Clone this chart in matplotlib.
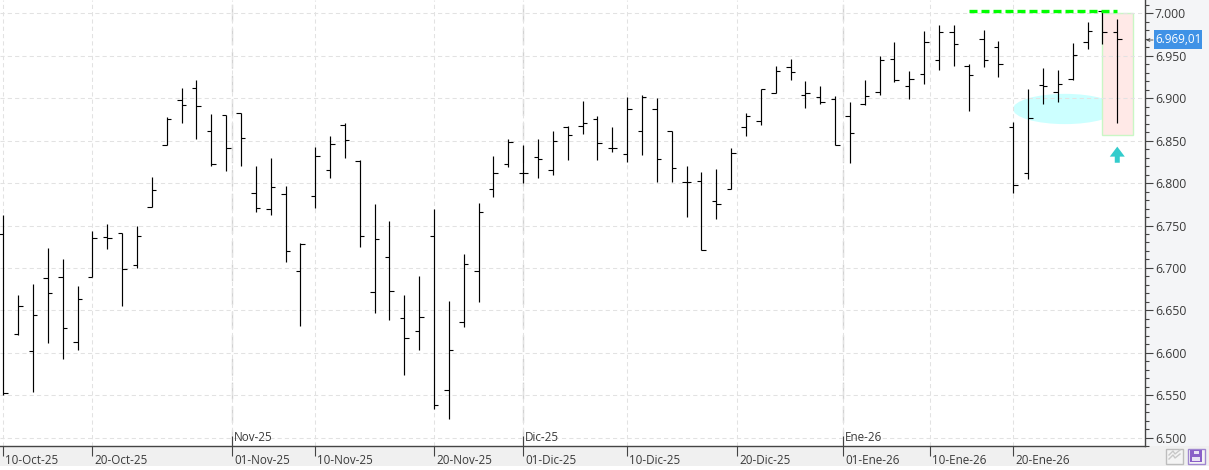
import matplotlib
matplotlib.use("Agg")
import matplotlib.pyplot as plt
from matplotlib.patches import Ellipse, Rectangle
from matplotlib.ticker import FuncFormatter, MultipleLocator
from matplotlib.transforms import ScaledTranslation
import numpy as np

plt.rcParams["font.family"] = ["Open Sans", "DejaVu Sans"]

# OHLC values
opens = [6740, 6622, 6602, 6688, 6689, 6612.5, 6689, 6736, 6741, 6703, 6772,
         6845.4, 6897.6, 6911.8, 6861, 6880, 6882.3, 6788, 6769, 6787,
         6696.7, 6785, 6815.8, 6868, 6826.4, 6672, 6713, 6641, 6626, 6738,
         6556, 6636.5, 6696.7, 6793.4, 6823, 6812.3, 6831, 6815.8, 6866.5, 6867,
         6875, 6841, 6834, 6862, 6887, 6861.5, 6801, 6803, 6778.5, 6792.7,
         6866, 6873, 6906, 6936.6, 6903.5, 6901, 6899, 6879, 6893, 6908,
         6946, 6914, 6928.3, 6944.8, 6977.8, 6937.7, 6969.6, 6961, 6865.8, 6811.5,
         6915.3, 6908, 6923, 6966, 7002.6, 6977.8]
highs = [6762.7, 6668.3, 6681, 6724, 6710, 6679, 6744, 6752, 6741.4, 6750, 6807.5,
         6877.6, 6911.8, 6921, 6881.5, 6880, 6882.3, 6820.4, 6830, 6797,
         6729.7, 6842, 6855, 6870.4, 6827.6, 6775, 6755, 6667.6, 6690, 6770,
         6660.5, 6716, 6777, 6831.5, 6851.6, 6844.5, 6851.6, 6862, 6867, 6897,
         6879, 6866, 6901.6, 6904, 6900.4, 6862, 6820, 6813, 6816.7, 6841.4,
         6882.7, 6911.4, 6938, 6946, 6920.4, 6914.5, 6902.4, 6895.7, 6921.6, 6950,
         6966.4, 6932, 6979.4, 6986.5, 6986.5, 6941, 6980.6, 6967.6, 6871.7, 6911,
         6935.8, 6933.4, 6965, 6990, 7003.4, 6993]
lows = [6550, 6621, 6554, 6611, 6593, 6603, 6689, 6722, 6654.5, 6700, 6772,
        6844.6, 6871.3, 6852, 6820.6, 6814.7, 6820.6, 6765.4, 6762, 6706.4,
        6631.4, 6770.6, 6806, 6829.6, 6724.6, 6646.8, 6638.5, 6573.6, 6603, 6533.6,
        6521.8, 6630.3, 6659.7, 6783.6, 6819, 6800, 6806, 6809.5, 6827, 6858,
        6827.7, 6837, 6825.3, 6833.6, 6801.7, 6801.7, 6760.4, 6721, 6758, 6792.7,
        6856, 6869, 6906, 6922, 6889, 6893.7, 6844.6, 6824, 6891.7, 6904,
        6919.7, 6899.6, 6917.3, 6933.8, 6938.5, 6885.5, 6937, 6925.5, 6788.8, 6805.3,
        6893.7, 6896, 6922, 6958.6, 6963.7, 6871]
closes = [6552, 6655, 6644, 6670, 6629, 6663, 6735, 6735, 6698.6, 6737.5, 6792,
          6875, 6891.7, 6890.6, 6823, 6841, 6852.8, 6771, 6795, 6720,
          6728.5, 6832.3, 6846.5, 6851, 6738, 6734.4, 6673, 6617.7, 6642.4, 6538.7,
          6603.5, 6705, 6766.3, 6812.3, 6848.8, 6812.3, 6828.8, 6850, 6857, 6870.5,
          6847, 6841, 6887, 6901, 6828, 6817.5, 6801, 6721.5, 6775, 6835,
          6879, 6910.6, 6932, 6930.7, 6906, 6896, 6845.4, 6858.7, 6902.4, 6944.8,
          6921, 6922.4, 6966, 6977.8, 6963.7, 6927, 6944.8, 6940, 6797.4, 6876.4,
          6914, 6916.5, 6950.7, 6979, 6977.8, 6969.6]

date_labels = ["10-Oct-25", "20-Oct-25", "01-Nov-25", "10-Nov-25", "20-Nov-25", "01-Dic-25",
               "10-Dic-25", "20-Dic-25", "01-Ene-26", "10-Ene-26", "20-Ene-26"]
date_pos = [0, 6, 15.42, 21, 29, 35, 42, 49.42, 56.55, 62.41, 68]
month_labels = ["Nov-25", "Dic-25", "Ene-26"]
month_pos = [15.42, 35, 56.55]
last_price = "6.969,01"

WIDTH, HEIGHT = 1209, 470
AXIS_X, AXIS_Y = 1144.5, 446
TEXT = "#3a3a3a"

fig = plt.figure(figsize=(WIDTH / 100, HEIGHT / 100), dpi=100, facecolor="white")

# window chrome drawn in pixel coordinates
chrome = fig.add_axes([0, 0, 1, 1])
chrome.set_xlim(0, WIDTH)
chrome.set_ylim(HEIGHT, 0)
chrome.axis("off")
chrome.add_patch(Rectangle((AXIS_X, 0), WIDTH - AXIS_X, AXIS_Y, fc="#f4f5f7", ec="none"))
chrome.add_patch(Rectangle((0, AXIS_Y), WIDTH, 20, fc="#f0f0f0", ec="none"))
chrome.add_patch(Rectangle((1154, 30), 48, 18.5, fc="#3f92e6", ec="none"))
chrome.text(1178, 39.5, last_price, color="white", fontsize=8.4, ha="center", va="center")
chrome.annotate("", xy=(1146, 40), xytext=(1153, 40),
                arrowprops=dict(arrowstyle="->", color="#555555", lw=0.7, shrinkA=0, shrinkB=0, mutation_scale=5))
# the two small buttons
chrome.add_patch(Rectangle((1165.5, 448.5), 17, 15.5, fc="#f4f4f4", ec="#bdbdbd", lw=1))
chrome.plot([1169, 1173, 1175, 1180], [455, 451, 454, 450], color="#c8c8c8", lw=1)
chrome.plot([1169, 1173, 1175, 1180], [459, 455, 458, 454], color="#c8c8c8", lw=1)
chrome.add_patch(Rectangle((1187.5, 448.5), 17, 15.5, fc="#f4f4f4", ec="#9f86d0", lw=1))
chrome.add_patch(Rectangle((1190, 450), 12, 12, fc="#8a5fc8", ec="none"))
chrome.add_patch(Rectangle((1193.5, 450.5), 5.5, 3, fc="#e8e0f4", ec="none"))
chrome.add_patch(Rectangle((1192, 457), 8, 4, fc="#e8e0f4", ec="none"))

# main chart, bar index on x and price on y
bars = np.arange(len(opens))
ax = fig.add_axes([0, (HEIGHT - AXIS_Y) / HEIGHT, AXIS_X / WIDTH, AXIS_Y / HEIGHT])
ax.set_facecolor("white")
ax.set_xlim(-3.3 / 14.853, (AXIS_X - 3.3) / 14.853)
ax.set_ylim(6490, 7015.9)

ax.yaxis.tick_right()
ax.yaxis.set_major_locator(MultipleLocator(50))
ax.yaxis.set_minor_locator(MultipleLocator(10))
ax.yaxis.set_major_formatter(FuncFormatter(lambda v, _: f"{v:,.0f}".replace(",", ".")))
ax.tick_params(axis="y", which="major", length=5.5, width=0.8, color="#444444", pad=2, labelsize=8.8, labelcolor=TEXT)
ax.tick_params(axis="y", which="minor", length=2.8, width=0.8, color="#444444")

ax.set_xticks(date_pos)
ax.set_xticklabels(date_labels, ha="left")
ax.tick_params(axis="x", length=7.2, width=0.8, color="#444444", pad=-1.8, labelsize=8.4, labelcolor=TEXT)
for lab in ax.get_xticklabels():
    lab.set_transform(lab.get_transform() + ScaledTranslation(1.5 / 72, 0, fig.dpi_scale_trans))

for side in ["top", "left"]:
    ax.spines[side].set_visible(False)
for side in ["bottom", "right"]:
    ax.spines[side].set_color("#444444")
    ax.spines[side].set_linewidth(1.0)

ax.grid(axis="y", which="major", color="#e2e2e2", lw=0.75, ls=(0, (4, 3)), zorder=0)
ax.grid(axis="x", color="#e2e2e2", lw=0.75, ls=(0, (4, 3)), zorder=0)
for pos in month_pos:
    ax.axvline(pos, color="white", lw=1.2, zorder=0.5)
    ax.axvline(pos, color="#d2d2d2", lw=1.0, ls=(0, (12, 5)), zorder=0.6)
ax.vlines(month_pos, 6490, 6502, color="#444444", lw=0.8, zorder=3)
for pos, text in zip(month_pos, month_labels):
    ax.text(pos + 0.1, 6500.5, text, color=TEXT, fontsize=8.4, va="center", ha="left")

# annotations from the chart platform
ax.add_patch(Ellipse((71.48, 6887.4), 7.0, 35.7, fc="#ccffff", ec="none", zorder=1))
ax.add_patch(Rectangle((74, 6857), 2.04, 143, fc="#ffe9e7", ec="#c9f7c5", lw=1, zorder=1.5))
ax.plot([65, 75], [7002.6, 7002.6], color="#00ff00", lw=2.4, ls=(0, (2.4, 1.2)), zorder=4, dash_capstyle="butt")
ax.annotate("", xy=(75, 6843), xytext=(75, 6824),
            arrowprops=dict(width=3.6, headwidth=10.8, headlength=7.2, shrink=0, fc="#33cccc", ec="none"), zorder=4)

# the OHLC bars
ax.vlines(bars, lows, highs, color="black", lw=0.85, zorder=3)
ax.hlines(opens, bars - 0.3, bars, color="black", lw=0.8, zorder=3)
ax.hlines(closes, bars, bars + 0.3, color="black", lw=0.8, zorder=3)

fig.savefig("out.png", dpi=100, facecolor=fig.get_facecolor())
